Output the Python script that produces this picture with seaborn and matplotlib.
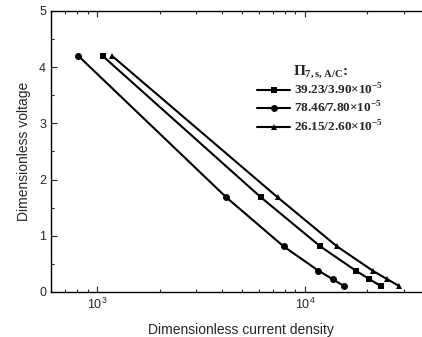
import matplotlib
matplotlib.use('Agg')
import pandas as pd
import matplotlib.pyplot as plt
import matplotlib.ticker as mticker
import seaborn as sns

sns.set_style("ticks")
plt.rcParams['font.family'] = ['Liberation Sans', 'DejaVu Sans']
plt.rcParams['mathtext.fontset'] = 'custom'
plt.rcParams['mathtext.rm'] = 'Liberation Sans'
plt.rcParams['mathtext.it'] = 'Liberation Sans:italic'
plt.rcParams['mathtext.bf'] = 'Liberation Serif:bold'

# data
voltage = [4.20, 1.685, 0.813, 0.379, 0.231, 0.107]
current_a = [1064, 6140, 11850, 17580, 20390, 23200]   # squares
current_b = [813, 4183, 7890, 11620, 13580, 15400]     # circles
current_c = [1181, 7390, 14250, 21200, 24800, 28400]   # triangles
labels = [r"39.23/3.90×10$^{\mathbf{-5}}$",
          r"78.46/7.80×10$^{\mathbf{-5}}$",
          r"26.15/2.60×10$^{\mathbf{-5}}$"]

rows = []
for lab, cur in zip(labels, [current_a, current_b, current_c]):
    for c, v in zip(cur, voltage):
        rows.append({'series': lab, 'current': c, 'voltage': v})
df = pd.DataFrame(rows)

fig = plt.figure(figsize=(4.22, 3.37), dpi=100)
ax = fig.add_axes([51/422, 45/337, 379/422, 281/337])

sns.lineplot(data=df, x='current', y='voltage', style='series', hue='series',
             palette=['black'] * 3, markers=['s', 'o', '^'], dashes=False,
             sort=False, linewidth=1.5, markersize=5, markeredgewidth=0,
             ax=ax, legend=True)

ax.set_xscale('log')
ax.set_xlim(600, 40000)
ax.set_ylim(0, 5)
ax.yaxis.set_major_locator(mticker.MultipleLocator(1))
ax.yaxis.set_minor_locator(mticker.MultipleLocator(0.5))
ax.xaxis.set_minor_locator(mticker.LogLocator(base=10, subs=range(2, 10)))
ax.xaxis.set_minor_formatter(mticker.NullFormatter())
ax.tick_params(which='both', direction='in', top=True, right=True,
               labelsize=9, width=0.8)
ax.tick_params(which='major', length=4)
ax.tick_params(which='minor', length=2.5)
for sp in ax.spines.values():
    sp.set_linewidth(1.0)
    sp.set_color('black')

ax.set_xlabel('Dimensionless current density', fontsize=10, labelpad=8)
ax.set_ylabel('Dimensionless voltage', fontsize=10, labelpad=6)

handles, _ = ax.get_legend_handles_labels()
leg = ax.legend(handles, labels, loc='upper left',
                bbox_to_anchor=(252/422, 1 - 58/337),
                bbox_transform=fig.transFigure, frameon=False,
                title=r"$\mathbf{\Pi_{7,s,A/C}}$:",
                prop={'family': 'Liberation Serif', 'weight': 'bold', 'size': 9.5},
                handlelength=2.5, handletextpad=0.25, labelspacing=0.22,
                borderaxespad=0)
leg.get_title().set_fontfamily('Liberation Serif')
leg.get_title().set_fontweight('bold')
leg.get_title().set_fontsize(11)

fig.savefig('out.png', dpi=100)
